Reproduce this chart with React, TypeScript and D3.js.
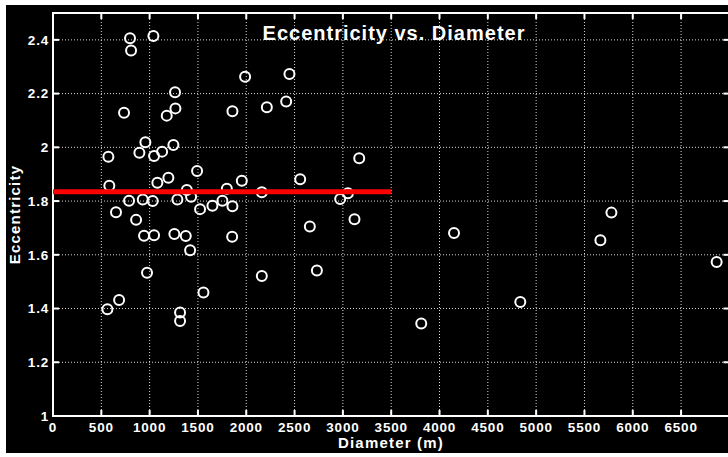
import React from "react";
import * as d3 from "d3";

const diameters = [
  797, 1039, 808, 1988, 1263, 1267, 1177, 735, 1857, 956, 1246, 2447, 2213,
  2413, 3169, 2558, 1954, 573, 894, 1046, 1129, 1491, 1194, 1080, 583, 1385,
  1799, 787, 929, 1032, 1287, 1429, 1753, 1522, 1650, 1857, 652, 860, 942,
  1046, 1256, 1374, 1854, 1419, 973, 2161, 2161, 1557, 684, 563, 1315, 1315,
  3052, 2972, 3120, 2658, 2731, 3811, 4150, 4836, 5779, 5665, 6868,
];
const eccentricities = [
  2.406, 2.414, 2.36, 2.263, 2.205, 2.145, 2.118, 2.129, 2.134, 2.019, 2.009,
  2.273, 2.149, 2.171, 1.959, 1.881, 1.876, 1.965, 1.98, 1.968, 1.984, 1.912,
  1.887, 1.868, 1.857, 1.841, 1.846, 1.801, 1.806, 1.8, 1.806, 1.816, 1.801,
  1.77, 1.783, 1.781, 1.758, 1.73, 1.671, 1.673, 1.677, 1.67, 1.667, 1.617,
  1.533, 1.833, 1.521, 1.46, 1.432, 1.397, 1.385, 1.354, 1.829, 1.808, 1.732,
  1.705, 1.542, 1.344, 1.681, 1.424, 1.757, 1.654, 1.573,
];
// mean line
const meanLine = { from: 0, to: 3500, value: 1.835 };

const xTicks = [0, 500, 1000, 1500, 2000, 2500, 3000, 3500, 4000, 4500, 5000, 5500, 6000, 6500];
const yTicks = [1, 1.2, 1.4, 1.6, 1.8, 2, 2.2, 2.4];

const W = 728;
const H = 457;
const left = 53;
const top = 13;
const right = 729.4;
const bottom = 416;

const font = "'Liberation Sans', Arial, Helvetica, sans-serif";

export default function App() {
  const x = d3.scaleLinear().domain([0, 7000]).range([left, right]);
  const y = d3.scaleLinear().domain([1, 2.5]).range([bottom, top]);
  const points = d3.zip(diameters, eccentricities);
  const tickLen = 6;

  return (
    <svg
      width={W}
      height={H}
      style={{ position: "fixed", left: 0, top: 0, background: "#fff" }}
    >
      <rect x={6} y={5} width={W - 6} height={448} fill="#000" />

      {/* grid */}
      <g stroke="#d8d8d8" strokeWidth={1} strokeDasharray="1,2">
        {xTicks.slice(1).map((t) => (
          <line key={"gx" + t} x1={x(t)} x2={x(t)} y1={top} y2={bottom} />
        ))}
        {yTicks.slice(1).map((t) => (
          <line key={"gy" + t} x1={left} x2={right} y1={y(t)} y2={y(t)} />
        ))}
      </g>

      {/* axes box and ticks */}
      <g stroke="#fff" strokeWidth={2}>
        <rect x={left} y={top} width={right - left} height={bottom - top} fill="none" />
        {xTicks.map((t) => (
          <g key={"tx" + t}>
            <line x1={x(t)} x2={x(t)} y1={bottom} y2={bottom - tickLen} />
            <line x1={x(t)} x2={x(t)} y1={top} y2={top + tickLen} />
          </g>
        ))}
        {yTicks.map((t) => (
          <g key={"ty" + t}>
            <line x1={left} x2={left + tickLen} y1={y(t)} y2={y(t)} />
            <line x1={right} x2={right - tickLen} y1={y(t)} y2={y(t)} />
          </g>
        ))}
      </g>

      {/* tick labels */}
      <g fill="#fff" fontFamily={font} fontWeight="bold" fontSize={13.5} letterSpacing={0.8}>
        {xTicks.map((t) => (
          <text key={"lx" + t} x={x(t)} y={432} textAnchor="middle">
            {t}
          </text>
        ))}
        {yTicks.map((t) => (
          <text key={"ly" + t} x={49} y={y(t)} dy="0.35em" textAnchor="end">
            {d3.format("~g")(t)}
          </text>
        ))}
      </g>

      {/* points */}
      <g fill="none" stroke="#fff" strokeWidth={2}>
        {points.map(([d, e], i) => (
          <circle key={i} cx={x(d)} cy={y(e)} r={5} />
        ))}
      </g>

      <line
        x1={x(meanLine.from)}
        x2={x(meanLine.to)}
        y1={y(meanLine.value)}
        y2={y(meanLine.value)}
        stroke="#ff0000"
        strokeWidth={5}
      />

      <text
        x={394}
        y={40}
        textAnchor="middle"
        fill="#fff"
        fontFamily={font}
        fontWeight="bold"
        fontSize={20}
        letterSpacing={1}
      >
        Eccentricity vs. Diameter
      </text>
      <text
        x={391}
        y={448}
        textAnchor="middle"
        fill="#fff"
        fontFamily={font}
        fontWeight="bold"
        fontSize={15}
        letterSpacing={1.2}
      >
        Diameter (m)
      </text>
      <text
        transform={`translate(20,${(top + bottom) / 2}) rotate(-90)`}
        textAnchor="middle"
        fill="#fff"
        fontFamily={font}
        fontWeight="bold"
        fontSize={15}
        letterSpacing={1.2}
      >
        Eccentricity
      </text>
    </svg>
  );
}
